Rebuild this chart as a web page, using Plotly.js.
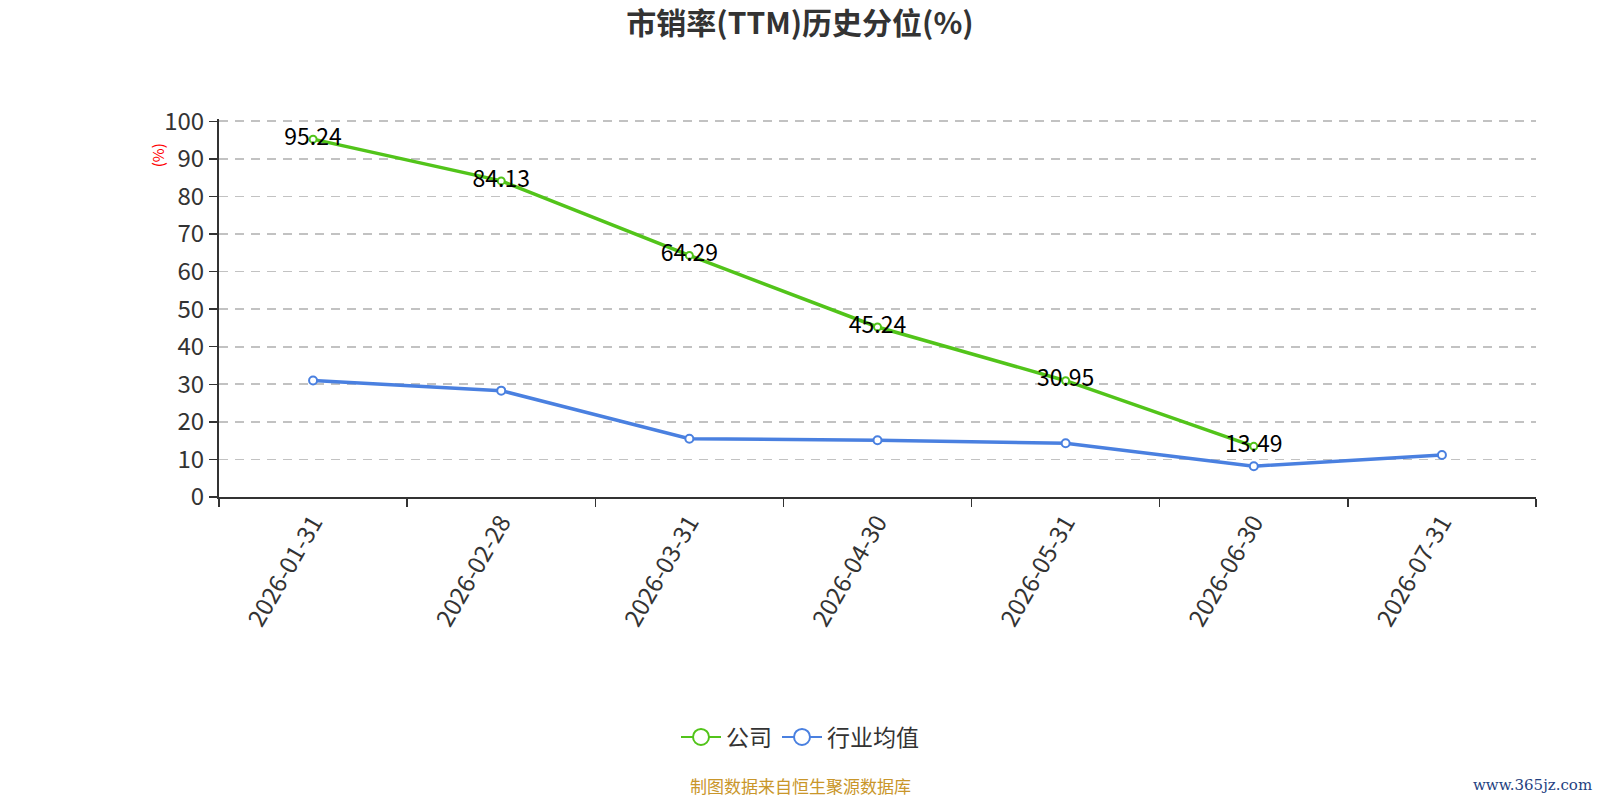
<!DOCTYPE html>
<html>
<head>
<meta charset="utf-8">
<script src="https://cdn.plot.ly/plotly-3.0.1.min.js"></script>
<style>html,body{margin:0;padding:0;background:#fff}#chart{width:1600px;height:800px}</style>
</head>
<body>
<div id="chart"></div>
<script>
const categories = ['2026-01-31','2026-02-28','2026-03-31','2026-04-30','2026-05-31','2026-06-30','2026-07-31'];
const companyValues = [95.24, 84.13, 64.29, 45.24, 30.95, 13.49, null];
const industryValues = [31.0, 28.3, 15.5, 15.1, 14.3, 8.2, 11.2];
const seriesNames = ['公司', '行业均值'];
const yTicks = [0,10,20,30,40,50,60,70,80,90,100];

const FONT = '"Noto Sans CJK SC", "Noto Sans", sans-serif';
const green = '#52c41a';
const blue = '#4a80e0';

const traces = [
  {
    x: categories, y: companyValues, name: seriesNames[0], showlegend: false,
    type: 'scatter', mode: 'lines+markers+text',
    text: companyValues.map(v => v == null ? '' : v.toFixed(2)),
    textposition: 'middle center',
    textfont: {family: FONT, size: 23, color: '#000'},
    line: {color: green, width: 3.5},
    marker: {symbol: 'circle', size: 7, color: '#fff', line: {color: green, width: 2}},
    cliponaxis: false, hoverinfo: 'x+y'
  },
  {
    x: categories, y: industryValues, name: seriesNames[1], showlegend: false,
    type: 'scatter', mode: 'lines+markers',
    line: {color: blue, width: 3.5},
    marker: {symbol: 'circle', size: 8, color: '#fff', line: {color: blue, width: 2}},
    cliponaxis: false, hoverinfo: 'x+y'
  },
  {
    x: [null], y: [null], name: seriesNames[0], type: 'scatter', mode: 'lines+markers',
    line: {color: green, width: 2},
    marker: {symbol: 'circle', size: 22, color: '#fff', line: {color: green, width: 2}}
  },
  {
    x: [null], y: [null], name: seriesNames[1], type: 'scatter', mode: 'lines+markers',
    line: {color: blue, width: 2},
    marker: {symbol: 'circle', size: 22, color: '#fff', line: {color: blue, width: 2}}
  }
];

const YMAX = 100.6;
const L = 219, R = 1536, B = 497;
const T = B - 376 * YMAX / 100;
const px = x => (x - L) / (R - L);
const py = y => (B - y) / (B - T);

const layout = {
  width: 1600, height: 800,
  paper_bgcolor: '#fff', plot_bgcolor: '#fff',
  margin: {l: L, r: 1600 - R, t: T, b: 800 - B},
  font: {family: FONT, color: '#333'},
  title: {text: '<b>市销率(TTM)历史分位(%)</b>', font: {family: FONT, size: 30, color: '#333'},
          x: 0.5, xref: 'container', xanchor: 'center', y: 0.971, yref: 'container', yanchor: 'middle'},
  showlegend: true,
  legend: {orientation: 'h', xref: 'container', yref: 'container', x: 0.5, xanchor: 'center', y: 1 - 737/800, yanchor: 'middle',
           font: {family: FONT, size: 23, color: '#333'}, itemwidth: 40, traceorder: 'normal', itemsizing: 'trace'},
  xaxis: {
    type: 'category', categoryorder: 'array', categoryarray: categories,
    range: [-0.5, 6.5], tickson: 'boundaries',
    showline: true, linecolor: '#333', linewidth: 2,
    ticks: 'outside', ticklen: 8, tickcolor: '#333', tickwidth: 1.5,
    tickangle: -60, tickfont: {family: FONT, size: 24, color: '#333'},
    showgrid: false, zeroline: false, fixedrange: true
  },
  yaxis: {
    range: [0, YMAX], tickvals: yTicks, ticktext: yTicks.map(String),
    showline: true, linecolor: '#333', linewidth: 2,
    ticks: 'outside', ticklen: 8, tickcolor: '#333', tickwidth: 1.5,
    tickfont: {family: FONT, size: 24, color: '#333'},
    showgrid: true, gridcolor: '#c2c2c2', griddash: '9px,7px', gridwidth: 1.6,
    zeroline: false, fixedrange: true
  },
  annotations: [
    {text: '(%)', xref: 'paper', yref: 'paper', x: px(157), y: py(155), textangle: -90, showarrow: false,
     font: {family: FONT, size: 15, color: '#ff0000'}, xanchor: 'center', yanchor: 'middle'},
    {text: '制图数据来自恒生聚源数据库', xref: 'paper', yref: 'paper', x: px(800), y: py(786), showarrow: false,
     font: {family: FONT, size: 17, color: '#c9962a'}, xanchor: 'center', yanchor: 'middle'},
    {text: 'www.365jz.com', xref: 'paper', yref: 'paper', x: px(1594), y: py(785), showarrow: false,
     font: {family: '"DejaVu Serif", "Liberation Serif", serif', size: 15, color: '#1f3f7f'}, xanchor: 'right', yanchor: 'middle'}
  ]
};

Plotly.newPlot('chart', traces, layout, {displayModeBar: false, staticPlot: true});
</script>
</body>
</html>
